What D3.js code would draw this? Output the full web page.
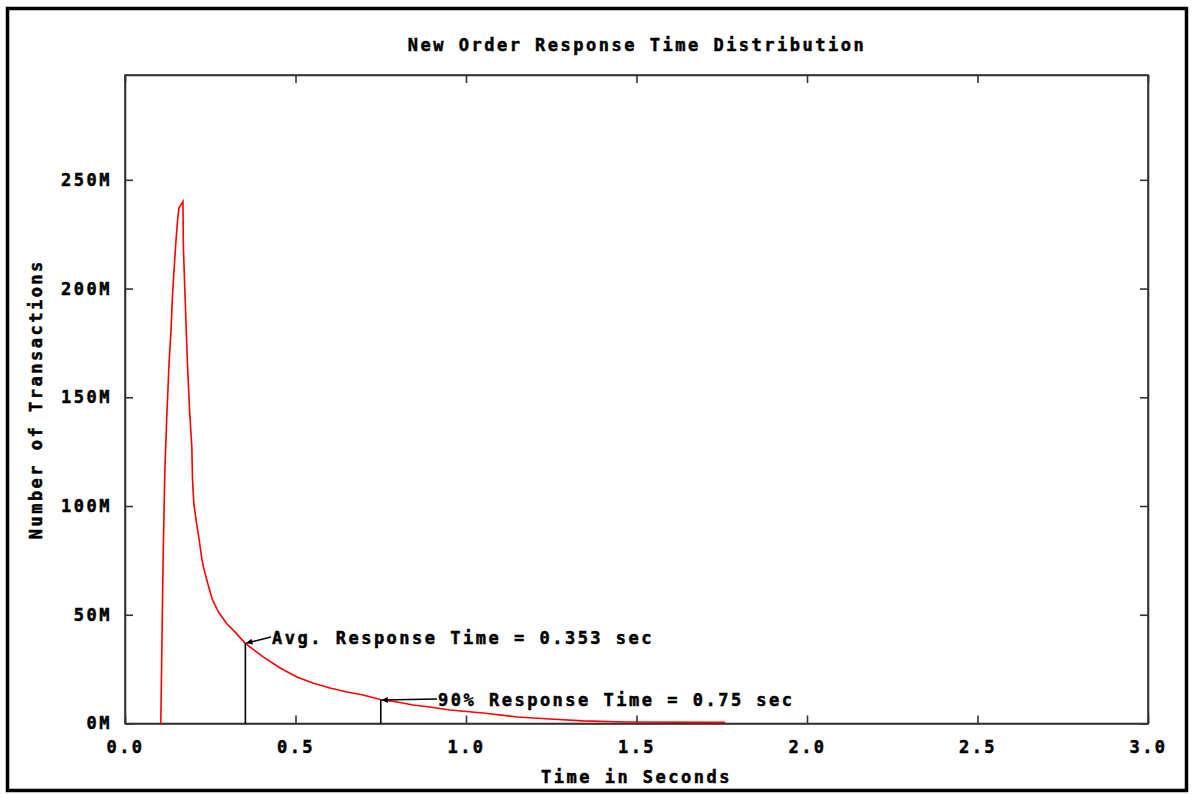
<!DOCTYPE html>
<html>
<head>
<meta charset="utf-8">
<script src="https://cdn.jsdelivr.net/npm/d3@7"></script>
<style>
	body { margin: 0; background: #fff; }
	text { font-family: "DejaVu Sans Mono", monospace; font-weight: bold; font-size: 17px; letter-spacing: 2.5px; fill: #000; stroke: #000; stroke-width: 0.5px; }
</style>
</head>
<body>
<script>
// response time (sec) and transactions (millions)
var responseTimes = [ 0.105, 0.112, 0.117, 0.123, 0.129, 0.135, 0.139, 0.144, 0.149, 0.154, 0.158, 0.166, 0.170,
		0.171, 0.178, 0.183, 0.189, 0.196, 0.198, 0.202, 0.210, 0.218, 0.225, 0.230, 0.240, 0.247, 0.256, 0.275,
		0.298, 0.323, 0.352, 0.405, 0.455, 0.504, 0.551, 0.601, 0.651, 0.698, 0.754, 0.798, 0.845, 0.894, 0.953,
		1.050, 1.150, 1.246, 1.343, 1.466, 1.760 ];
var transactionsM = [ 0, 78, 117, 143, 165, 181, 196, 209, 221, 231, 237, 239, 240,
		220, 188, 166, 145, 127, 112, 101, 92, 84, 76, 72, 66, 62, 57, 51,
		46, 42, 37, 30.6, 25.5, 21.4, 18.6, 16.3, 14.5, 13.1, 10.8, 9.9, 8.5, 7.6, 6.2,
		4.8, 3.0, 2.1, 1.2, 0.7, 0.5 ];

var xTicks = [ 0, 0.5, 1.0, 1.5, 2.0, 2.5, 3.0 ];
var yTicks = [ 0, 50, 100, 150, 200, 250 ];

var markerTimes = [ 0.353, 0.75 ];
var markerCounts = [ 37, 10.8 ];
var markerLabels = [ "Avg. Response Time = 0.353 sec", "90% Response Time = 0.75 sec" ];

var titleText = "New Order Response Time Distribution";
var xTitle = "Time in Seconds";
var yTitle = "Number of Transactions";

var width = 1195, height = 794;
var plotLeft = 125, plotRight = 1148, plotTop = 75, plotBottom = 723.5;
var tickLen = 8;

var x = d3.scaleLinear().domain([ 0, 3 ]).range([ plotLeft, plotRight ]);
var y = d3.scaleLinear().domain([ 0, 298.2 ]).range([ plotBottom, plotTop ]);

var svg = d3.select("body").append("svg")//
.attr("width", width)//
.attr("height", height);

// outer frame
svg.append("rect")//
.attr("x", 7.5).attr("y", 8.5)//
.attr("width", 1179).attr("height", 782)//
.attr("fill", "none")//
.attr("stroke", "#000")//
.attr("stroke-width", 3.5);

// title
svg.append("text")//
.attr("x", 637).attr("y", 50.5)//
.attr("text-anchor", "middle")//
.text(titleText);

// axes: bottom/left with labels, top/right mirrored ticks only
var axisColor = "#333";
svg.append("g")//
.attr("transform", "translate(0," + plotBottom + ")")//
.call(d3.axisBottom(x).tickValues(xTicks).tickSizeInner(-tickLen).tickSizeOuter(0).tickPadding(17).tickFormat(d3.format(".1f")));
svg.append("g")//
.attr("transform", "translate(0," + plotTop + ")")//
.call(d3.axisTop(x).tickValues(xTicks).tickSizeInner(-tickLen).tickSizeOuter(0).tickFormat(""));
svg.append("g")//
.attr("transform", "translate(" + plotLeft + ",0)")//
.call(d3.axisLeft(y).tickValues(yTicks).tickSizeInner(-tickLen).tickSizeOuter(0).tickPadding(13).tickFormat(function(d) {
	return d + "M";
}));
svg.append("g")//
.attr("transform", "translate(" + plotRight + ",0)")//
.call(d3.axisRight(y).tickValues(yTicks).tickSizeInner(-tickLen).tickSizeOuter(0).tickFormat(""));

svg.selectAll(".domain").attr("stroke", axisColor).attr("stroke-width", 1.6);
svg.selectAll(".tick line").attr("stroke", axisColor).attr("stroke-width", 1.6);
svg.selectAll(".tick text")//
.attr("font-family", null).attr("font-size", null).attr("fill", "#000");

// plot border
svg.append("rect")//
.attr("x", plotLeft).attr("y", plotTop)//
.attr("width", plotRight - plotLeft).attr("height", plotBottom - plotTop)//
.attr("fill", "none")//
.attr("stroke", axisColor)//
.attr("stroke-width", 1.6);

// axis titles
svg.append("text")//
.attr("x", x(1.5)).attr("y", 783)//
.attr("text-anchor", "middle")//
.text(xTitle);
svg.append("text")//
.attr("transform", "translate(42," + ((plotTop + plotBottom) / 2) + ") rotate(-90)")//
.attr("text-anchor", "middle")//
.text(yTitle);

// curve
var points = responseTimes.map(function(t, i) {
	return [ t, transactionsM[i] ];
});
svg.append("path")//
.datum(points)//
.attr("fill", "none")//
.attr("stroke", "#ff0000")//
.attr("stroke-width", 1.6)//
.attr("d", d3.line().x(function(d) {
	return x(d[0]);
}).y(function(d) {
	return y(d[1]);
}));

// markers
svg.append("defs").append("marker")//
.attr("id", "head")//
.attr("viewBox", "0 0 10 10")//
.attr("refX", 10).attr("refY", 5)//
.attr("markerWidth", 8).attr("markerHeight", 6)//
.attr("markerUnits", "userSpaceOnUse")//
.attr("orient", "auto")//
.append("path").attr("d", "M0,0 L10,5 L0,10 Z").attr("fill", "#000");

var labelPos = [ [ 272, 644, -7 ], [ 438, 706, -7 ] ];

markerTimes.forEach(function(t, i) {
	svg.append("line")//
	.attr("x1", x(t)).attr("x2", x(t))//
	.attr("y1", plotBottom).attr("y2", y(markerCounts[i]))//
	.attr("stroke", "#000")//
	.attr("stroke-width", 1.6);
	svg.append("line")//
	.attr("x1", labelPos[i][0] - 1).attr("y1", labelPos[i][1] + labelPos[i][2])//
	.attr("x2", x(t) + 1).attr("y2", y(markerCounts[i]))//
	.attr("stroke", "#000")//
	.attr("stroke-width", 1.4)//
	.attr("marker-end", "url(#head)");
	svg.append("text")//
	.attr("x", labelPos[i][0]).attr("y", labelPos[i][1])//
	.text(markerLabels[i]);
});
</script>
</body>
</html>
